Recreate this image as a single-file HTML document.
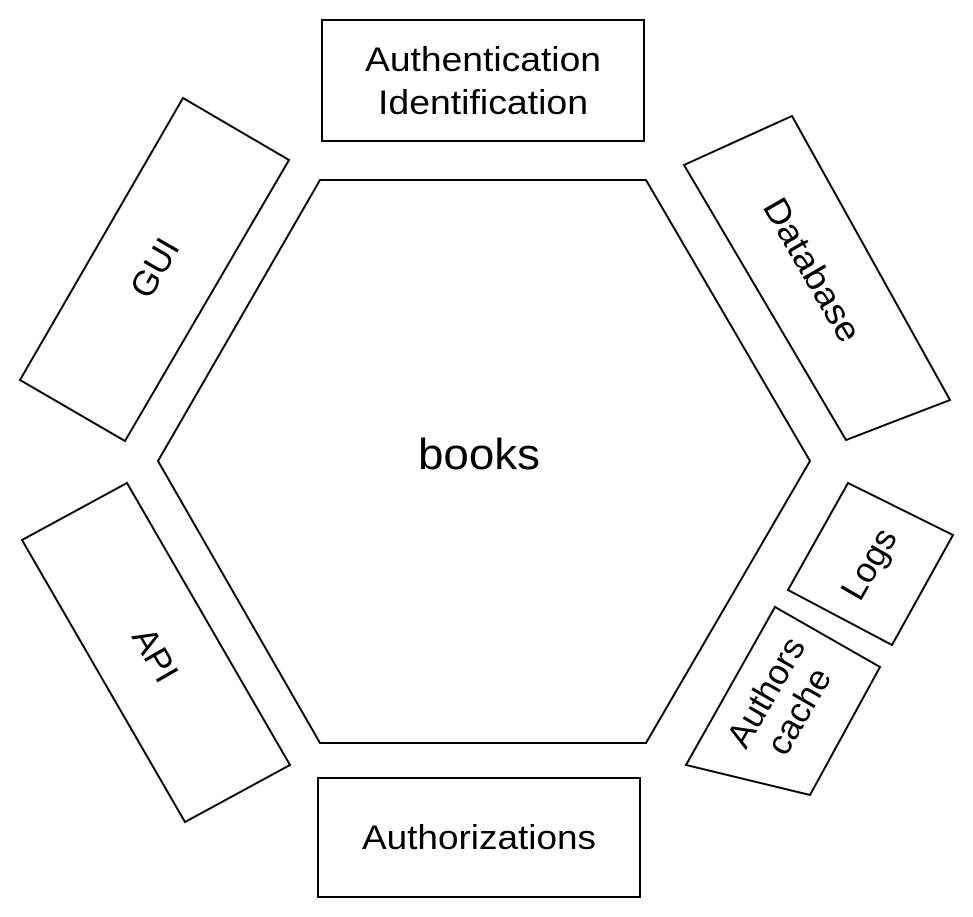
<!DOCTYPE html>
<html><head><style>
body{margin:0;background:#fff;}
svg{display:block}
text{font-family:"Liberation Sans",sans-serif;fill:#000;}
</style></head><body>
<svg width="973" height="917" viewBox="0 0 973 917" xmlns="http://www.w3.org/2000/svg">
<g fill="none" stroke="#000" stroke-width="2">
<polygon points="320,180 646,180 810,461 646,743 320,743 158,461"/>
<rect x="322" y="20" width="322" height="121"/>
<rect x="318" y="778" width="322" height="119"/>
<polygon points="183,98 289,160 125,441 20,380"/>
<polygon points="22,540 127,483 290,765 185,822"/>
<polygon points="684,165 792,116 950,400 846,440"/>
<polygon points="848,483 953,535 892,645 788,590"/>
<polygon points="775,607 880,667 810,795 686,765"/>
</g>
<text x="483" y="71" font-size="34" text-anchor="middle" textLength="236" lengthAdjust="spacingAndGlyphs">Authentication</text>
<text x="483" y="114" font-size="34" text-anchor="middle" textLength="210" lengthAdjust="spacingAndGlyphs">Identification</text>
<text x="479" y="849" font-size="34" text-anchor="middle" textLength="234" lengthAdjust="spacingAndGlyphs">Authorizations</text>
<text x="479" y="469" font-size="44" text-anchor="middle" textLength="122" lengthAdjust="spacingAndGlyphs">books</text>
<text transform="translate(155,268) rotate(-60)" font-size="35" text-anchor="middle" dominant-baseline="central">GUI</text>
<text transform="translate(155,655) rotate(60)" font-size="35" text-anchor="middle" dominant-baseline="central">API</text>
<text transform="translate(812,270) rotate(60)" font-size="35" text-anchor="middle" dominant-baseline="central" textLength="160" lengthAdjust="spacingAndGlyphs">Database</text>
<text transform="translate(869,564) rotate(-60)" font-size="35" text-anchor="middle" dominant-baseline="central">Logs</text>
<g transform="translate(783,702) rotate(-60)">
<text x="0" y="-8" font-size="35" text-anchor="middle">Authors</text>
<text x="0" y="30" font-size="35" text-anchor="middle">cache</text>
</g>
</svg>
</body></html>
